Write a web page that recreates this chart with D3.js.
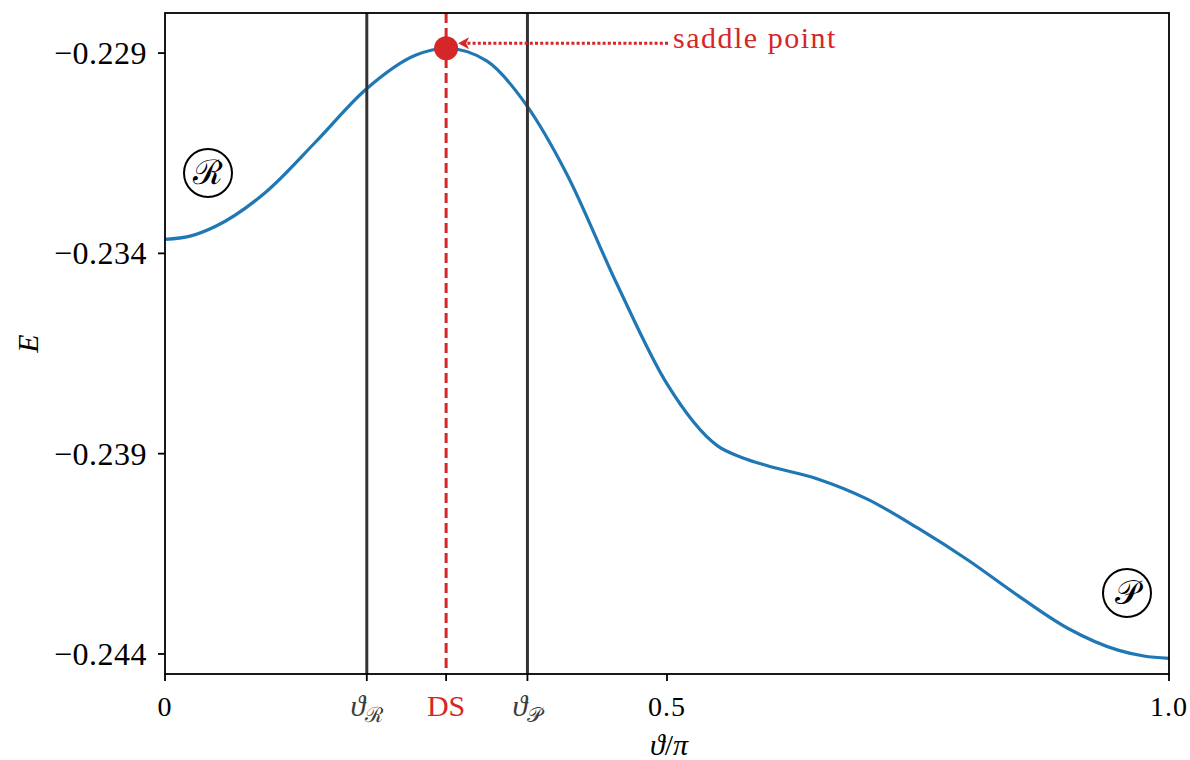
<!DOCTYPE html>
<html>
<head>
<meta charset="utf-8">
<script src="https://cdn.jsdelivr.net/npm/d3@7"></script>
<style>
  body { margin: 0; background: #fff; }
  svg text { font-family: "Liberation Serif", "DejaVu Serif", serif; }
</style>
</head>
<body>
<svg id="chart" width="1190" height="760"></svg>
<script>
// Energy profile along the reaction coordinate theta/pi
const theta = [0, 0.025, 0.05, 0.10, 0.15, 0.20, 0.25, 0.28, 0.32, 0.36, 0.40, 0.45,
  0.50, 0.55, 0.575, 0.60, 0.65, 0.70, 0.75, 0.80, 0.85, 0.90, 0.95, 0.975, 1.0];
const energy = [-0.23365, -0.23357, -0.23333, -0.23248, -0.23122, -0.22991, -0.22905,
  -0.22888, -0.22919, -0.23030, -0.23201, -0.23476, -0.23726, -0.23880, -0.23910,
  -0.23930, -0.23963, -0.24014, -0.24086, -0.24166, -0.24255, -0.24337, -0.24391,
  -0.24405, -0.24411];

// Reference positions on the theta axis
const thetaReactant = 0.201;
const thetaSaddle = 0.28;
const thetaProduct = 0.361;
const saddleEnergy = -0.22888;

const xTickValues = [0, 0.5, 1.0];
const xTickLabels = ["0", "0.5", "1.0"];
const yTickValues = [-0.229, -0.234, -0.239, -0.244];
const yTickLabels = ["\u22120.229", "\u22120.234", "\u22120.239", "\u22120.244"];

const plotLeft = 165, plotRight = 1169, plotTop = 13, plotBottom = 674;
const blue = "#1f77b4", red = "#d62728", dark = "#333333";
const svg = d3.select("#chart");

const x = d3.scaleLinear().domain([0, 1]).range([plotLeft, plotRight]);
const y = d3.scaleLinear().domain([-0.2445, -0.228]).range([plotBottom, plotTop]);

svg.append("defs").append("clipPath").attr("id", "plotclip")
  .append("rect").attr("x", plotLeft).attr("y", plotTop)
  .attr("width", plotRight - plotLeft).attr("height", plotBottom - plotTop);

const plot = svg.append("g").attr("clip-path", "url(#plotclip)");

// Energy curve
const line = d3.line().x((d, i) => x(theta[i])).y((d, i) => y(energy[i]))
  .curve(d3.curveMonotoneX);
plot.append("path").datum(energy).attr("d", line)
  .attr("fill", "none").attr("stroke", blue).attr("stroke-width", 3.2);

// Vertical reference lines
[thetaReactant, thetaProduct].forEach(t => {
  plot.append("line").attr("x1", x(t)).attr("x2", x(t))
    .attr("y1", plotTop).attr("y2", plotBottom)
    .attr("stroke", dark).attr("stroke-width", 3);
});
plot.append("line").attr("x1", x(thetaSaddle)).attr("x2", x(thetaSaddle))
  .attr("y1", plotTop).attr("y2", plotBottom)
  .attr("stroke", red).attr("stroke-width", 3).attr("stroke-dasharray", "10,5");

// Saddle point marker
plot.append("circle").attr("cx", x(thetaSaddle)).attr("cy", y(saddleEnergy))
  .attr("r", 12).attr("fill", red);

// Annotation arrow and label
const arrowY = y(saddleEnergy) - 5;
const tipX = x(thetaSaddle) + 12;
svg.append("line").attr("x1", 668).attr("x2", tipX + 8)
  .attr("y1", arrowY).attr("y2", arrowY)
  .attr("stroke", red).attr("stroke-width", 3).attr("stroke-dasharray", "3,2.2");
svg.append("path")
  .attr("d", `M${tipX},${arrowY} L${tipX + 11},${arrowY - 6} L${tipX + 8},${arrowY} L${tipX + 11},${arrowY + 6} Z`)
  .attr("fill", red);
svg.append("text").attr("x", 673).attr("y", arrowY + 4.5)
  .attr("fill", red).attr("font-size", 30).attr("letter-spacing", 1.5).text("saddle point");

// Reactant / product badges
function badge(cx, cy, glyph) {
  svg.append("circle").attr("cx", cx).attr("cy", cy).attr("r", 24)
    .attr("fill", "none").attr("stroke", "#000").attr("stroke-width", 2);
  svg.append("text").attr("x", cx).attr("y", cy + 11).attr("text-anchor", "middle")
    .attr("font-size", 34).text(glyph);
}
badge(208, 173, "\u211B");
badge(1127, 593, "\uD835\uDCAB");

// Frame
svg.append("rect").attr("x", plotLeft).attr("y", plotTop)
  .attr("width", plotRight - plotLeft).attr("height", plotBottom - plotTop)
  .attr("fill", "none").attr("stroke", "#000").attr("stroke-width", 1.8);

// Y axis
const yAxis = svg.append("g");
yTickValues.forEach((v, i) => {
  yAxis.append("line").attr("x1", plotLeft - 7).attr("x2", plotLeft)
    .attr("y1", y(v)).attr("y2", y(v)).attr("stroke", "#000").attr("stroke-width", 1.8);
  yAxis.append("text").attr("x", plotLeft - 18).attr("y", y(v) + 11)
    .attr("text-anchor", "end").attr("font-size", 32).attr("letter-spacing", 0.5)
    .text(yTickLabels[i]);
});
svg.append("text").attr("transform", `translate(38,${(plotTop + plotBottom) / 2}) rotate(-90)`)
  .attr("text-anchor", "middle").attr("font-size", 30).attr("font-style", "italic").text("E");

// X axis
const xAxis = svg.append("g");
const allX = [...xTickValues, thetaReactant, thetaSaddle, thetaProduct];
allX.forEach(v => {
  xAxis.append("line").attr("x1", x(v)).attr("x2", x(v))
    .attr("y1", plotBottom).attr("y2", plotBottom + 7).attr("stroke", "#000").attr("stroke-width", 1.8);
});
const labelY = 716;
xTickValues.forEach((v, i) => {
  xAxis.append("text").attr("x", x(v)).attr("y", labelY)
    .attr("text-anchor", "middle").attr("font-size", 28).attr("letter-spacing", 1)
    .text(xTickLabels[i]);
});
function subLabel(v, sub) {
  const t = xAxis.append("text").attr("x", x(v)).attr("y", labelY)
    .attr("text-anchor", "middle").attr("fill", "#3c3c3c").attr("font-size", 30);
  t.append("tspan").attr("font-style", "italic").text("\u03D1");
  t.append("tspan").attr("font-size", 21).attr("dy", 6).text(sub);
}
subLabel(thetaReactant, "\u211B");
xAxis.append("text").attr("x", x(thetaSaddle)).attr("y", labelY)
  .attr("text-anchor", "middle").attr("fill", red).attr("font-size", 30).text("DS");
subLabel(thetaProduct, "\uD835\uDCAB");

const xl = svg.append("text").attr("x", (plotLeft + plotRight) / 2 + 2).attr("y", 755)
  .attr("text-anchor", "middle").attr("font-size", 30);
xl.append("tspan").attr("font-style", "italic").text("\u03D1");
xl.append("tspan").text("/");
xl.append("tspan").attr("font-style", "italic").text("\u03C0");
</script>
</body>
</html>
